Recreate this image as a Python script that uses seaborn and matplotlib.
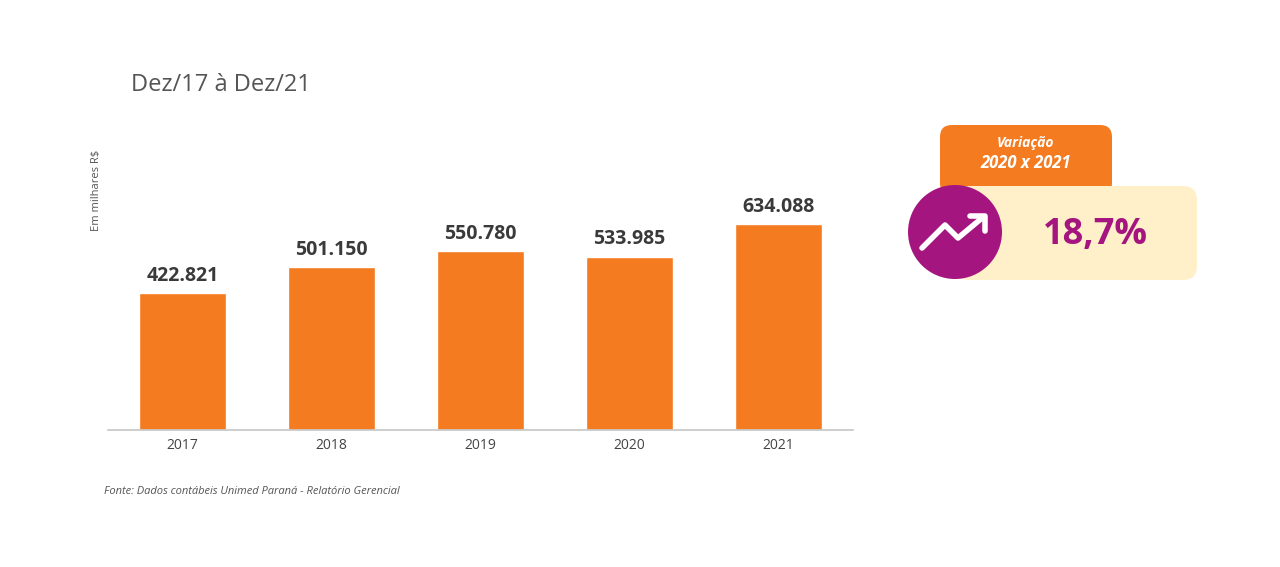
import matplotlib
matplotlib.use("Agg")
import matplotlib.pyplot as plt
import seaborn as sns
import pandas as pd
from matplotlib.patches import FancyBboxPatch, Circle

years = ["2017", "2018", "2019", "2020", "2021"]
values = [422821, 501150, 550780, 533985, 634088]
labels = ["422.821", "501.150", "550.780", "533.985", "634.088"]
title = "Dez/17 à Dez/21"
variation = "18,7%"

sns.set_theme(style="white")
plt.rcParams['font.family'] = ['Open Sans', 'DejaVu Sans']

fig = plt.figure(figsize=(12.8, 5.67), dpi=100)
ax = fig.add_axes([108/1280, 137/567, 745/1280, 330/567])
df = pd.DataFrame({"ano": years, "v": values})
sns.barplot(data=df, x="ano", y="v", color="#F47B20", saturation=1, width=0.59, ax=ax)
ax.set_xlim(-0.5, 4.5)
ax.set_ylim(0, 1016000)
for i, (v, l) in enumerate(zip(values, labels)):
    ax.text(i, v + 22000, l, ha="center", va="bottom", fontsize=14, fontweight="bold", color="#3a3a3a")
for s in ["top", "right", "left"]:
    ax.spines[s].set_visible(False)
ax.spines["bottom"].set_color("#c8c8c8")
ax.set_yticks([])
ax.set_xlabel("")
ax.set_ylabel("")
ax.tick_params(axis="x", labelsize=10, colors="#444444", length=0, pad=6)

ov = fig.add_axes([0, 0, 1, 1])
ov.set_xlim(0, 1280); ov.set_ylim(567, 0); ov.axis("off")
ov.text(131, 85, title, fontsize=17, color="#555555", va="center")
ov.text(97, 190, "Em milhares R$", fontsize=8, color="#555555", rotation=90, ha="center", va="center")
ov.text(104, 492, "Fonte: Dados contábeis Unimed Paraná - Relatório Gerencial", fontsize=8, style="italic", color="#555555", va="center")

ov.add_patch(FancyBboxPatch((940, 125), 172, 70, boxstyle="round,pad=0,rounding_size=12", fc="#F47B20", ec="none"))
ov.add_patch(FancyBboxPatch((955, 186), 242, 94, boxstyle="round,pad=0,rounding_size=14", fc="#FFF0C9", ec="none"))
ov.text(1026, 143, "Variação", fontsize=10, style="italic", fontweight="bold", color="white", ha="center", va="center")
ov.text(1026, 163, "2020 x 2021", fontsize=12, style="italic", fontweight="bold", color="white", ha="center", va="center")
ov.add_patch(Circle((955, 232), 47, fc="#A5157F", ec="none"))
ov.plot([922, 945, 958, 982], [248, 225, 238, 218], color="white", lw=4, solid_capstyle="round", solid_joinstyle="round")
ov.plot([970, 985, 985], [216, 216, 231], color="white", lw=4, solid_capstyle="round", solid_joinstyle="round")
ov.text(1095, 235, variation, fontsize=26, fontweight="bold", color="#A5157F", ha="center", va="center")

fig.savefig("out.png", dpi=100)
